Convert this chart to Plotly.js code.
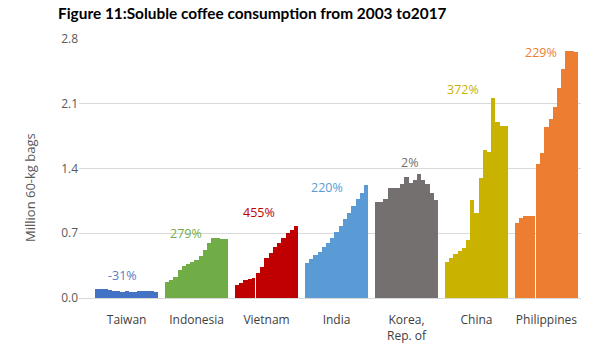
<!DOCTYPE html>
<html>
<head>
<meta charset="utf-8">
<script src="https://cdn.plot.ly/plotly-3.0.1.min.js"></script>
<style>html,body{margin:0;padding:0;background:#fff;}#chart{width:610px;height:352px;}</style>
</head>
<body>
<div id="chart"></div>
<script>
// ---- data ----
const years = [2003, 2004, 2005, 2006, 2007, 2008, 2009, 2010, 2011, 2012, 2013, 2014, 2015, 2016, 2017];
const categories = ['Taiwan', 'Indonesia', 'Vietnam', 'India', 'Korea,<br>Rep. of', 'China', 'Philippines'];
const taiwan      = [0.10, 0.10, 0.095, 0.085, 0.08, 0.075, 0.07, 0.075, 0.07, 0.07, 0.075, 0.075, 0.08, 0.08, 0.069];
const indonesia   = [0.17, 0.20, 0.23, 0.30, 0.35, 0.37, 0.39, 0.41, 0.45, 0.52, 0.60, 0.65, 0.65, 0.64, 0.64];
const vietnam     = [0.14, 0.16, 0.19, 0.21, 0.22, 0.27, 0.34, 0.43, 0.49, 0.55, 0.60, 0.645, 0.70, 0.74, 0.78];
const india       = [0.38, 0.42, 0.46, 0.50, 0.55, 0.60, 0.65, 0.71, 0.78, 0.85, 0.92, 0.99, 1.07, 1.14, 1.22];
const korea       = [1.04, 1.04, 1.07, 1.19, 1.19, 1.19, 1.23, 1.31, 1.24, 1.28, 1.34, 1.28, 1.23, 1.13, 1.06];
const china       = [0.385, 0.43, 0.475, 0.51, 0.54, 0.63, 1.06, 0.92, 1.30, 1.60, 1.58, 2.16, 1.90, 1.86, 1.86];
const philippines = [0.81, 0.87, 0.89, 0.89, 0.89, 1.45, 1.57, 1.85, 1.93, 2.06, 2.27, 2.48, 2.67, 2.67, 2.66];
const growthLabels = ['-31%', '279%', '455%', '220%', '2%', '372%', '229%'];
const yTicks = [0, 0.7, 1.4, 2.1, 2.8];
const yTitle = 'Million 60-kg bags';

// ---- styles / layout helpers ----
const series = [taiwan, indonesia, vietnam, india, korea, china, philippines];
const colors = ['#4472C4', '#70AD47', '#C00000', '#5B9BD5', '#757070', '#C9B200', '#ED7D31'];
const labelColors = ['#5B7BC4', '#70AD47', '#C00000', '#5B9BD5', '#757070', '#C9B200', '#ED7D31'];
const breakAfter = [null, null, 4, null, null, null, 4]; // white seam between bars
const PITCH = 16.6;
const labelDX = [-0.9, -2.5, -1.8, -2.3, 0.7, -3.3, -1.4];
const labelYs = [0.24, 0.70, 0.92, 1.20, 1.46, 2.25, 2.65];

const traces = series.map((vals, g) => ({
  type: 'bar',
  x: vals.map((_, i) => g * PITCH + i),
  y: vals,
  width: vals.map((_, i) => (breakAfter[g] === i ? 0.75 : 1)),
  offset: vals.map(() => -0.5),
  marker: {color: colors[g], line: {width: 0}},
  hoverinfo: 'skip',
  showlegend: false
}));

const annotations = growthLabels.map((t, g) => ({
  x: g * PITCH + 7 + labelDX[g],
  y: labelYs[g],
  xref: 'x', yref: 'y',
  text: t,
  showarrow: false,
  font: {family: 'Open Sans', size: 12.5, color: labelColors[g]},
  xanchor: 'center', yanchor: 'middle'
}));
annotations.push({
  xref: 'paper', yref: 'paper',
  x: (30 - 79) / 502, y: (298 - 188) / 259,
  text: yTitle, textangle: -90, showarrow: false,
  xanchor: 'center', yanchor: 'middle',
  font: {family: 'Open Sans', size: 13, color: '#595959'}
});

const layout = {
  width: 610, height: 352,
  margin: {l: 79, r: 29, t: 39, b: 54},
  paper_bgcolor: '#fff', plot_bgcolor: '#fff',
  bargap: 0,
  title: {
    text: 'Figure 11:Soluble coffee consumption from 2003 to2017',
    x: 58 / 610, xanchor: 'left', xref: 'container',
    y: 1 - 14 / 352, yanchor: 'middle', yref: 'container',
    font: {family: 'Lato', size: 15.4, weight: 700, color: '#000'}
  },
  xaxis: {
    range: [-4.3, 6 * PITCH + 14.5 + 0.7],
    tickvals: categories.map((_, g) => g * PITCH + 7),
    ticktext: categories,
    ticks: '',
    ticklabelstandoff: 11,
    showgrid: false, zeroline: false,
    showline: true, linecolor: '#d9d9d9', linewidth: 1,
    tickfont: {family: 'Open Sans', size: 12, color: '#404040'},
    fixedrange: true
  },
  yaxis: {
    range: [0, 2.8],
    tickvals: yTicks,
    ticktext: yTicks.map(v => v.toFixed(1)),
    showgrid: true, gridcolor: '#d9d9d9', gridwidth: 1,
    zeroline: false, ticks: '',
    tickfont: {family: 'Open Sans', size: 12, color: '#595959'},
    fixedrange: true
  },
  annotations: annotations
};

Plotly.newPlot('chart', traces, layout, {displayModeBar: false, staticPlot: true});
</script>
</body>
</html>
